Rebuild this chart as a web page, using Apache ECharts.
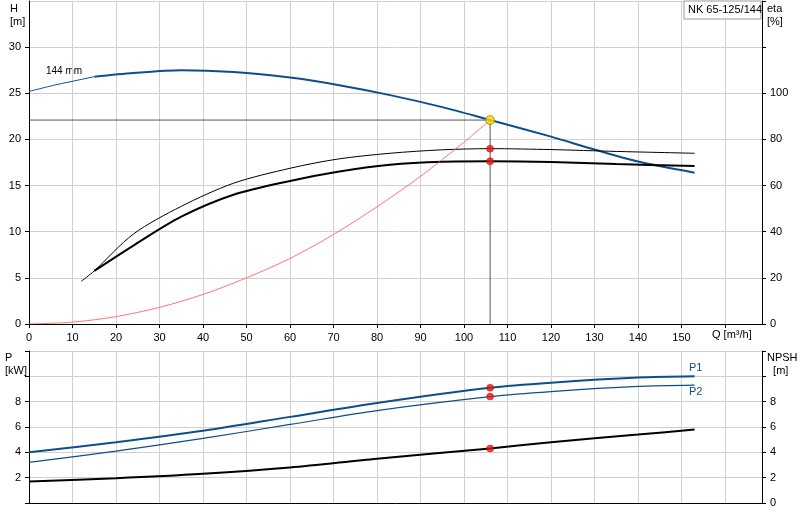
<!DOCTYPE html>
<html><head><meta charset="utf-8">
<script src="https://cdn.jsdelivr.net/npm/echarts@6/dist/echarts.min.js"></script>
<style>html,body{margin:0;padding:0;background:#fff}#c{width:800px;height:520px}</style>
</head><body><div id="c"></div>
<script>
const hThin = [[0,25.2],[6,25.9],[12,26.5],[15,26.8]];
const hCurve = [[15,26.8],[24,27.2],[35,27.5],[47,27.3],[60,26.7],[71,25.9],[83,24.8],[95,23.5],[106,22.1],[120,20.3],[130,18.9],[140,17.6],[153,16.4]];
const etaThin = [[12,18.5],[15,23],[24,39],[35,51],[47,61],[60,67.5],[71,71.5],[83,74],[95,75.5],[106,76],[120,75.6],[135,74.8],[153,74]];
const etaThick = [[15,23],[24,34],[35,46.5],[47,56],[60,62],[71,66],[83,69],[95,70.3],[106,70.5],[120,70.2],[135,69.3],[153,68.5]];
const systemCurve = [[0,0],[10,0.2],[20,0.8],[30,1.8],[40,3.2],[50,5],[60,7.1],[70,9.7],[80,12.7],[90,16],[100,19.7],[106,22.1]];
const p1 = [[0,4.0],[20,4.8],[40,5.7],[60,6.8],[80,7.9],[106,9.1],[120,9.5],[140,9.9],[153,10.0]];
const p2 = [[0,3.2],[20,4.1],[40,5.1],[60,6.2],[80,7.3],[106,8.4],[120,8.8],[140,9.2],[153,9.3]];
const npsh = [[0,1.7],[20,1.95],[40,2.3],[60,2.8],[80,3.5],[106,4.3],[120,4.8],[140,5.4],[153,5.8]];
const dutyQ = 106, dutyH = 22.1;
const etaDots = [[106,76],[106,70.5]];
const pDots = [[106,9.1],[106,8.4]];
const npshDot = [[106,4.3]];

const blue = '#0b4f8c';
const gl = {show:true,lineStyle:{color:'#d0d0d0'}};
const axLine = {show:true,lineStyle:{color:'#000'}};
const lbl = {color:'#000',fontSize:11,fontFamily:'Liberation Sans'};
const chart = echarts.init(document.getElementById('c'));
function ln(data, xi, yi, color, w, extra){return Object.assign({type:'line',data,xAxisIndex:xi,yAxisIndex:yi,showSymbol:false,smooth:0.3,lineStyle:{color,width:w},itemStyle:{color},z:3,animation:false},extra||{});}
function dots(data, xi, yi, color){return {type:'scatter',data,xAxisIndex:xi,yAxisIndex:yi,symbolSize:7,itemStyle:{color,borderColor:'#900',borderWidth:0.5},z:10,animation:false};}
chart.setOption({
  animation:false,
  grid:[{left:29,right:38,top:1,height:323},{left:29,right:38,top:351,height:152}],
  xAxis:[
    {type:'value',gridIndex:0,min:0,max:168.5,interval:10,axisLine:axLine,axisTick:{show:true,length:4,lineStyle:{color:'#000'}},splitLine:gl,
     axisLabel:Object.assign({},lbl,{formatter:v=>v>155?'':v,showMaxLabel:false})},
    {type:'value',gridIndex:1,min:0,max:168.5,interval:10,axisLine:axLine,axisTick:{show:false},splitLine:gl,axisLabel:{show:false}}
  ],
  yAxis:[
    {type:'value',gridIndex:0,min:0,max:35,interval:5,axisLine:axLine,axisTick:{show:true,length:4,lineStyle:{color:'#000'}},splitLine:gl,axisLabel:Object.assign({},lbl,{showMaxLabel:false})},
    {type:'value',gridIndex:0,position:'right',min:0,max:140,interval:20,axisLine:axLine,axisTick:{show:true,length:4,lineStyle:{color:'#000'}},splitLine:{show:false},axisLabel:Object.assign({},lbl,{formatter:v=>v>100?'':v})},
    {type:'value',gridIndex:1,min:0,max:12,interval:2,axisLine:axLine,axisTick:{show:true,length:4,lineStyle:{color:'#000'}},splitLine:gl,axisLabel:Object.assign({},lbl,{formatter:v=>(v==0||v>8)?'':v})},
    {type:'value',gridIndex:1,position:'right',min:0,max:12,interval:2,axisLine:axLine,axisTick:{show:true,length:4,lineStyle:{color:'#000'}},splitLine:{show:false},axisLabel:Object.assign({},lbl,{formatter:v=>v>8?'':v})}
  ],
  series:[
    ln(hThin,0,0,blue,1),
    ln(hCurve,0,0,blue,2),
    ln(etaThin,0,1,'#000',1),
    ln(etaThick,0,1,'#000',2),
    ln(systemCurve,0,0,'#ff5050',0.8),
    ln([[0,dutyH],[dutyQ,dutyH]],0,0,'#555',1,{smooth:false}),
    ln([[dutyQ,dutyH],[dutyQ,0]],0,0,'#555',1,{smooth:false}),
    {type:'scatter',data:[[dutyQ,dutyH]],xAxisIndex:0,yAxisIndex:0,symbolSize:9,itemStyle:{color:'#ffd700',borderColor:'#a08000',borderWidth:1},z:11},
    dots(etaDots,0,1,'#ee1111'),
    ln(p1,1,2,blue,2),
    ln(p2,1,2,blue,1.2),
    ln(npsh,1,3,'#000',2),
    dots(pDots,1,2,'#ee1111'),
    dots(npshDot,1,3,'#ee1111')
  ],
  graphic:[
    {type:'text',left:10,top:2,style:{text:'H\n[m]',fill:'#000',font:'11px Liberation Sans',lineHeight:13}},
    {type:'text',left:767,top:2,style:{text:'eta\n[%]',fill:'#000',font:'11px Liberation Sans',lineHeight:13}},
    {type:'text',left:46,top:66,style:{text:'144 mm',fill:'#000',font:'10px Liberation Sans'}},
    {type:'text',left:712,top:329,style:{text:'Q [m³/h]',fill:'#000',font:'11px Liberation Sans'}},
    {type:'text',left:5,top:351,style:{text:'P\n[kW]',fill:'#000',font:'11px Liberation Sans',lineHeight:13}},
    {type:'text',left:767,top:351,style:{text:'NPSH\n  [m]',fill:'#000',font:'11px Liberation Sans',lineHeight:13}},
    {type:'text',left:689,top:362,style:{text:'P1',fill:blue,font:'11px Liberation Sans'}},
    {type:'text',left:689,top:386,style:{text:'P2',fill:blue,font:'11px Liberation Sans'}},
    {type:'rect',shape:{x:684,y:1,width:77,height:18},style:{fill:'#fff',stroke:'#999'},z:20},
    {type:'text',left:688,top:4,style:{text:'NK 65-125/144',fill:'#000',font:'11px Liberation Sans'},z:21}
  ]
});
</script></body></html>
